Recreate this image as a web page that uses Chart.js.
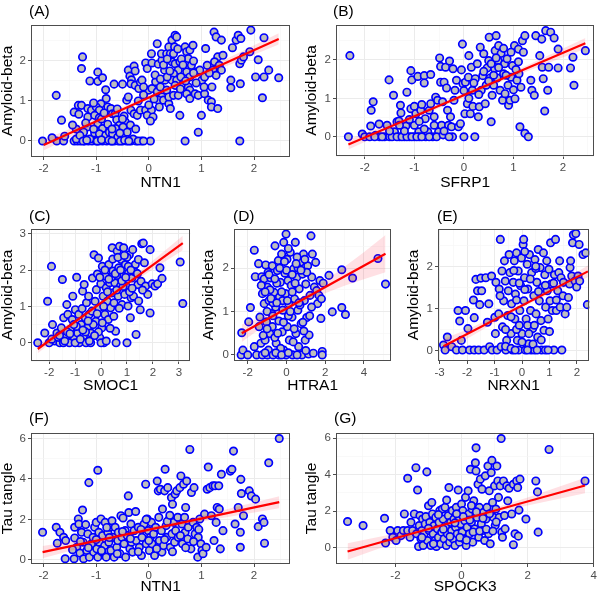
<!DOCTYPE html>
<html>
<head>
<meta charset="utf-8">
<script src="https://cdn.jsdelivr.net/npm/chart.js@4.4.1/dist/chart.umd.min.js"></script>
<style>
html, body { margin: 0; padding: 0; background: #fff; }
#page { position: relative; width: 600px; height: 597px; overflow: hidden; font-family: "Liberation Sans", Arial, sans-serif; }
.box { position: absolute; }
.tag { position: absolute; font-size: 15.5px; line-height: 18px; height: 18px; color: #000; }
</style>
</head>
<body>
<div id="page"></div>
<script>
// Panel labels and axis titles
const tags = ['(A)', '(B)', '(C)', '(D)', '(E)', '(F)', '(G)'];
const xTitles = ['NTN1', 'SFRP1', 'SMOC1', 'HTRA1', 'NRXN1', 'NTN1', 'SPOCK3'];
const yTitles = ['Amyloid-beta', 'Amyloid-beta', 'Amyloid-beta', 'Amyloid-beta', 'Amyloid-beta', 'Tau tangle', 'Tau tangle'];

// Tick labels
const xTicksA = [-2, -1, 0, 1, 2], yTicksA = [0, 1, 2];
const xTicksB = [-2, -1, 0, 1, 2], yTicksB = [0, 1, 2];
const xTicksC = [-2, -1, 0, 1, 2, 3], yTicksC = [0, 1, 2, 3];
const xTicksD = [-2, 0, 2, 4], yTicksD = [0, 1, 2];
const xTicksE = [-3, -2, -1, 0, 1, 2], yTicksE = [0, 1, 2];
const xTicksF = [-2, -1, 0, 1, 2], yTicksF = [0, 2, 4, 6];
const xTicksG = [-2, 0, 2, 4], yTicksG = [0, 2, 4, 6];

// Scatter points [x, y]
const ptsA = [
  [-2.02,0],[-1.75,0],[-1.62,0],[-1.42,0],[-1.36,0],[-1.3,0],[-1.22,0],[-1.15,0],[-1.08,0],[-1.0,0],[-0.95,0],[-0.88,0],
  [-0.8,0],[-0.72,0],[-0.66,0],[-0.58,0],[-0.5,0],[-0.42,0],[-0.34,0],[-0.24,0],[-0.14,0],[0.03,0],[0.69,0],[1.73,0],
  [-1.84,0.08],[-1.6,0.12],[-1.38,0.05],[-1.25,0.1],[-1.12,0.05],[-0.85,0.08],[-0.62,0.06],[-0.45,0.1],[-0.3,0.05],
  [-1.66,0.52],[-1.76,1.14],[-1.42,0.72],[-1.34,0.89],[-1.28,0.89],[-1.33,0.67],[-1.26,2.1],[-1.28,1.81],
  [-1.12,1.5],[-1.16,0.81],[-1.09,0.77],[-1.16,0.6],[-1.17,0.35],[-1.24,0.22],[-1.31,0.14],
  [-0.97,1.72],[-0.97,1.49],[-0.88,1.58],[-0.82,1.28],[-0.81,1.06],[-0.91,0.93],[-1.0,0.85],[-0.94,0.77],[-1.03,0.64],
  [-0.94,0.58],[-0.97,0.43],[-0.88,0.31],[-1.03,0.2],[-0.94,0.18],[-0.82,0.14],[-0.75,0.22],[-0.78,0.85],[-0.72,0.81],[-0.69,0.68],
  [-0.66,1.42],[-0.64,0.68],[-0.61,0.53],[-0.56,0.39],[-0.63,0.31],[-0.69,0.18],[-0.59,0.1],[-0.5,1.42],[-0.47,0.62],
  [-0.45,0.48],[-0.49,0.35],[-0.41,0.22],[-0.42,1.02],[-0.39,1.1],
  [-0.39,1.77],[-0.36,1.62],[-0.33,1.53],[-0.28,1.87],[-0.26,1.75],[-0.34,1.43],[-0.26,1.39],[-0.19,1.31],[-0.16,1.47],
  [-0.13,1.52],[-0.34,0.77],[-0.28,0.68],[-0.22,0.64],[-0.16,0.77],[-0.06,0.77],[0.05,0.77],[-0.03,0.64],[0.08,0.6],[0.03,0.5],
  [-0.06,1.95],[-0.03,1.81],[0.05,2.18],[0.06,1.95],[0,1.27],[0.06,1.31],[0.13,1.48],[0.16,1.23],[0.22,1.35],[0.18,1.92],
  [0.16,2.43],[0.25,2.02],[0.24,2.18],[0.3,1.77],[0.34,2.18],[0.38,2.35],[0.41,2.18],[0.31,1.52],[0.34,1.27],[0.25,1.1],
  [0.18,1.02],[0.28,1.02],[0.38,0.93],[0.41,0.81],[0.38,1.1],
  [0.44,2.52],[0.5,2.64],[0.53,2.6],[0.49,2.35],[0.47,2.18],[0.44,1.98],[0.5,1.93],[0.59,1.98],[0.56,1.77],[0.47,1.68],
  [0.44,1.52],[0.53,1.52],[0.5,1.39],[0.61,1.6],[0.66,1.43],[0.47,1.14],[0.56,1.14],[0.59,0.64],[0.69,2.35],[0.72,2.23],
  [0.78,2.27],[0.84,2.39],[0.75,2.06],[0.81,1.89],[0.72,1.73],[0.78,1.6],[0.75,1.35],[0.78,1.27],[0.72,1.18],[0.78,1.06],
  [0.88,1.18],[0.94,1.14],[0.94,0.22],[1.0,0.64],[0.91,1.73],[0.97,1.77],[1.01,1.52],[1.06,1.6],[1.08,2.31],[1.11,1.89],
  [1.06,1.18],[1.13,1.02],[1.19,0.98],[1.19,0.85],[1.31,0.81],[1.24,2.72],[1.28,2.6],[1.38,2.52],[1.31,2.1],[1.41,2.14],
  [1.25,1.98],[1.34,1.89],[1.38,1.77],[1.22,1.77],[1.28,1.64],[1.59,2.33],[1.66,2.52],[1.7,2.64],[1.75,2.56],[1.56,1.52],
  [1.56,1.33],[1.74,1.43],[1.73,1.93],[1.76,2.02],[1.8,2.1],[1.94,2.77],[1.92,2.23],[2.03,1.6],[2.08,2.03],[2.19,2.58],
  [2.19,1.6],[2.16,1.08],[2.28,1.77],[2.47,1.58],
  [-1.25,0],[-1.18,0.02],[-0.98,0],[-0.9,0.03],[-0.76,0.02],[-0.7,0],[-0.54,0],[-0.46,0.02],[-0.38,0],[-0.2,0],[-0.1,0],
  [-1.38,0.3],[-1.2,0.45],[-1.05,0.3],[-0.9,0.55],[-0.78,0.42],[-0.7,0.3],[-0.55,0.2],[-0.5,0.55],[-0.35,0.4],[-0.25,0.3],
  [-1.45,0.4],[-0.6,0.8],[-0.85,0.7],[-1.05,0.95],
  [-0.2,1.0],[-0.1,1.15],[0.1,1.05],[0.2,0.85],[0.0,0.9],[-0.1,1.35],[0.12,1.65],[0.22,1.55],[0.35,1.6],[0.28,1.9],
  [0.4,1.75],[0.62,2.05],[0.65,1.9],[0.85,2.0],[0.9,1.45],[1.05,1.35],[1.15,1.7],[0.7,1.5],[0.85,1.7],[0.55,2.3],
  [0.35,2.05],[0.6,1.3],[1.2,1.35]
];
const ptsB = [
  [-2.33,0],[-2.3,2.11],[-2.05,0.07],[-2.0,0],[-1.88,0.28],[-1.83,0.91],[-1.87,0.69],[-1.78,0.04],[-1.71,0.33],[-1.7,0],
  [-1.6,0],[-1.55,0.3],[-1.51,1.48],[-1.5,0],[-1.42,1.08],[-1.4,0.13],[-1.35,0.39],[-1.31,0.41],[-1.28,0.82],[-1.27,0.62],
  [-1.3,0],[-1.2,0],[-1.17,0.28],[-1.15,1.16],[-1.1,0],[-1.07,0.73],[-1.07,1.72],[-1.05,1.48],[-1.0,0],[-1.0,0.79],
  [-0.97,0.6],[-0.93,1.57],[-0.91,0.13],[-0.9,0],[-0.87,0.69],[-0.85,0.84],[-0.8,1.59],[-0.8,1.4],[-0.78,0.47],[-0.77,0],
  [-0.73,0.13],[-0.7,0.69],[-0.67,1.62],[-0.67,0.86],[-0.63,0],[-0.6,0.52],[-0.57,1.03],[-0.53,0.95],[-0.51,0.13],[-0.49,2.05],
  [-0.47,1.83],[-0.47,1.42],[-0.43,0.91],[-0.45,0.3],[-0.4,1.42],[-0.37,1.81],[-0.35,1.27],[-0.33,0.69],[-0.31,0.3],[-0.29,1.97],
  [-0.27,0.52],[-0.25,0.26],[-0.23,0],[-0.22,1.77],[-0.2,0.95],[-0.18,1.21],[-0.15,1.47],[-0.11,0.26],[-0.07,0.34],[-0.05,1.74],
  [-0.03,2.41],[-0.02,1.38],[0,0],[0.02,0.6],[0.03,1.42],[0.07,0.86],[0.09,1.55],[0.1,2.11],[0.13,0.6],[0.15,1.81],
  [0.17,1.21],[0.18,0.79],[0.22,0],[0.23,1.51],[0.27,1.9],[0.29,0.52],[0.31,0.78],[0.33,2.33],[0.35,1.21],[0.38,1.59],
  [0.4,2.16],[0.43,0.86],[0.45,1.34],[0.47,1.79],[0.5,1.98],[0.51,2.59],[0.53,1.53],[0.55,0.39],[0.57,1.08],[0.6,1.34],
  [0.62,1.77],[0.63,2.24],[0.65,2.63],[0.67,1.53],[0.69,1.98],[0.7,2.37],[0.73,1.21],[0.75,2.17],[0.78,0.95],[0.8,1.64],
  [0.82,1.9],[0.83,1.12],[0.87,2.03],[0.89,1.34],[0.9,0.82],[0.93,0.95],[0.95,1.55],[0.98,1.85],[1.0,1.22],[1.02,2.37],
  [1.03,0.99],[1.07,1.47],[1.1,2.28],[1.11,1.64],[1.13,0.26],[1.15,1.29],[1.18,2.5],[1.2,2.2],[1.23,2.63],[1.23,0.09],
  [1.3,0],[1.35,1.47],[1.37,1.21],[1.42,1.08],[1.45,2.63],[1.53,2.11],[1.57,2.54],[1.58,1.81],[1.6,1.51],[1.63,0.67],
  [1.65,2.76],[1.69,1.21],[1.71,1.81],[1.75,2.72],[1.82,2.57],[1.9,2.28],[1.9,1.79],[2.15,1.79],[2.2,2.07],[2.22,1.34],[2.45,2.24],
  [-1.9,0],[-1.8,0],[-1.65,0],[-1.45,0],[-1.35,0],[-1.25,0],[-1.15,0],[-1.05,0],[-0.95,0],[-0.85,0],[-0.7,0],[-0.55,0],
  [-0.42,0.05],[-0.3,0],[-1.5,0.15],[-1.2,0.15],[-1.0,0.3],[-0.8,0.2],[-0.6,0.3],[-0.4,0.15],[-1.1,0.45],[-0.9,0.4],[-1.3,0.3],
  [0.0,1.2],[0.1,1.0],[0.2,1.4],[0.3,1.1],[0.4,1.7],[0.55,1.9],[0.6,1.6],[0.7,1.8],[0.8,2.3],[0.85,1.6],[0.95,2.2],
  [1.05,1.75],[1.1,1.95],[0.65,2.05],[0.5,1.45]
];
const ptsC = [
  [-2.44,0],[-2.17,0.27],[-2.06,1.14],[-1.91,2.1],[-1.87,0.5],[-1.78,0.05],[-1.7,0.27],[-1.59,0],[-1.53,0.41],[-1.49,1.74],
  [-1.44,0.69],[-1.37,0.14],[-1.32,1.05],[-1.28,0.78],[-1.22,0],[-1.19,0.37],[-1.11,0.64],[-1.09,1.28],[-1.03,0.14],[-0.99,0.91],
  [-0.94,1.8],[-0.9,0.27],[-0.86,0.78],[-0.84,0],[-0.77,0.5],[-0.73,0.94],[-0.71,1.42],[-0.68,0.18],[-0.65,1.6],[-0.61,0.69],
  [-0.58,0],[-0.56,1.1],[-0.52,0.41],[-0.48,1.28],[-0.46,0.78],[-0.39,0.27],[-0.35,0.87],[-0.33,1.78],[-0.27,2.42],[-0.23,1.14],
  [-0.2,0.59],[-0.18,1.46],[-0.14,1.89],[-0.1,2.33],[-0.08,0.96],[-0.05,0.14],[-0.01,1.62],[0.03,0.41],[0.05,2.1],[0.08,1.28],
  [0.11,0],[0.15,0.78],[0.18,1.83],[0.2,1.51],[0.24,1.14],[0.28,0.64],[0.3,2.15],[0.33,1.65],[0.37,0.96],[0.41,1.37],
  [0.43,2.61],[0.46,1.97],[0.49,0.73],[0.53,1.65],[0.56,0.32],[0.58,0],[0.62,2.52],[0.66,1.28],[0.68,2.06],[0.71,2.65],
  [0.75,1.56],[0.78,2.29],[0.81,1.05],[0.84,1.83],[0.87,2.61],[0.91,1.33],[0.94,2.15],[0.96,1.56],[1.0,0],[1.04,1.01],
  [1.06,1.92],[1.09,2.42],[1.13,0.69],[1.16,1.24],[1.19,1.78],[1.22,2.56],[1.25,1.28],[1.32,2.15],[1.35,0.23],[1.42,1.6],
  [1.44,2.29],[1.51,0.91],[1.54,1.69],[1.57,2.72],[1.63,2.74],[1.67,2.2],[1.72,1.56],[1.8,1.33],[1.89,2.56],[1.89,0.82],
  [1.97,1.62],[2.08,1.56],[2.18,1.62],[2.27,2.06],[2.35,1.77],[3.05,2.22],[3.15,1.08],
  [-2.0,0],[-1.9,0.1],[-1.65,0.15],[-1.45,0],[-1.3,0.3],[-1.0,0],[-0.95,0.45],[-0.6,0.3],[-0.4,0],[-0.3,0.5],
  [-0.1,0.3],[0.0,0],[0.2,0.05],[0.35,0.4],[0.5,1.1],[0.6,1.85],[0.7,0.95],[0.85,1.55],[1.0,2.35],[1.1,1.4],[1.3,1.95],[1.45,1.15],
  [-1.6,0.2],[-1.4,0.05],[-1.2,0.25],[-1.05,0.5],[-0.8,0.1],[-0.7,0.35],[-0.5,0.6],[-0.45,0.05],[-0.25,0.2],[-0.15,0.8],
  [0.05,0.55],[0.1,1.0],[0.25,1.4],[0.4,1.8],[0.45,2.3],[0.55,1.9],[0.6,1.45],[0.65,2.35],[0.75,2.0],[0.8,1.7],
  [0.9,2.4],[0.95,1.8],[1.05,2.1],[1.15,2.0],[1.2,1.5],[0.3,1.75],[0.15,2.0],[-0.05,1.8],[1.4,1.9],[1.6,1.45]
];
const ptsD = [
  [-2.31,0.51],[-2.34,0],[-2.25,0.11],[-1.95,0.76],[-2.0,0],[-1.86,1.09],[-1.66,2.41],[-1.61,1.8],[-1.66,0.19],[-1.54,0],
  [-1.44,2.1],[-1.41,0.65],[-1.37,0.87],[-1.32,0.27],[-1.27,1.8],[-1.24,1.41],[-1.24,0],[-1.15,1.75],[-1.15,1.18],[-1.1,0.34],
  [-1.07,2.07],[-1.03,0.76],[-0.98,1.56],[-0.98,0],[-0.93,0.11],[-0.9,1.25],[-0.86,0.49],[-0.81,1.77],[-0.76,0.95],[-0.73,2.05],
  [-0.73,0.65],[-0.69,0],[-0.64,1.44],[-0.59,2.51],[-0.56,1.1],[-0.53,0.27],[-0.47,1.94],[-0.42,2.17],[-0.39,0.78],[-0.39,0],
  [-0.36,1.33],[-0.31,1.67],[-0.25,2.32],[-0.22,0.53],[-0.19,1.03],[-0.14,2.59],[-0.14,0.11],[-0.08,1.88],[-0.05,1.41],[-0.02,2.78],
  [-0.02,0],[0.03,2.2],[0.05,0.65],[0.08,1.71],[0.12,1.18],[0.15,0.34],[0.2,2.36],[0.25,1.6],[0.29,0.87],[0.32,0],
  [0.37,1.98],[0.42,1.29],[0.46,2.59],[0.49,0.49],[0.54,1.79],[0.59,1.03],[0.63,0.19],[0.66,1.52],[0.71,2.13],[0.76,0.72],
  [0.8,0],[0.83,1.86],[0.88,2.32],[0.93,1.25],[0.97,0.34],[1.0,1.63],[1.05,0.86],[1.1,2.05],[1.14,0.02],[1.17,0.46],
  [1.22,1.37],[1.27,2.74],[1.31,1.79],[1.34,2.32],[1.39,0.04],[1.44,1.56],[1.51,2.13],[1.56,1.48],[1.61,1.18],[1.68,1.37],
  [1.73,1.71],[1.78,0.84],[1.81,1.29],[1.85,0.08],[1.9,1.65],[1.85,0],[2.2,1.83],[2.37,0.99],[2.86,1.96],[2.86,1.09],
  [3.05,0.93],[3.42,1.77],[4.73,2.22],[5.12,1.63],
  [-1.2,0.45],[-1.0,1.0],[-0.85,1.5],[-0.6,0.4],[-0.5,1.65],[-0.3,0.15],[-0.2,1.25],[0.0,1.95],[0.1,0.9],[0.3,1.45],
  [0.4,0.6],[0.55,2.25],[0.7,1.15],[0.9,0.55],[1.05,1.9],[1.2,0.9],[-0.7,1.2],[-0.95,1.9],[0.6,2.0],[1.3,1.1],
  [-1.3,1.6],[-1.1,1.45],[-1.0,0.6],[-0.9,1.85],[-0.8,1.3],[-0.7,0.9],[-0.6,1.75],[-0.5,1.2],[-0.45,0.5],[-0.35,2.0],
  [-0.25,1.45],[-0.15,0.75],[-0.1,2.15],[0.05,1.25],[0.1,2.45],[0.2,1.0],[0.3,1.85],[0.35,0.3],[0.45,1.65],[0.5,2.1],
  [0.65,1.2],[0.75,1.95],[0.85,0.75],[0.95,2.2],[-0.55,0.05],[-0.25,0.0],[0.1,0.05],[0.55,0.0],[1.0,0.1],[-1.1,0.05]
];
const ptsE = [
  [-2.86,0.13],[-2.8,0.01],[-2.72,0.32],[-2.56,0.09],[-2.39,0.01],[-2.33,0.95],[-2.27,0.7],[-2.21,0.24],[-2.17,0.01],[-2.06,0.95],
  [-1.97,0.52],[-1.91,0.01],[-1.77,1.2],[-1.74,0.78],[-1.74,0.01],[-1.68,1.69],[-1.62,1.42],[-1.58,0.01],[-1.54,1.09],[-1.5,1.72],
  [-1.47,1.42],[-1.38,0.01],[-1.32,1.73],[-1.26,0.67],[-1.21,1.11],[-1.18,0.09],[-1.11,1.77],[-1.09,0.01],[-0.99,0.79],[-0.97,0.4],
  [-0.95,1.62],[-0.91,0.01],[-0.85,0.87],[-0.83,1.46],[-0.79,2.64],[-0.76,0.09],[-0.73,1.89],[-0.71,0.56],[-0.67,1.18],[-0.64,2.13],
  [-0.61,1.65],[-0.59,0.01],[-0.56,0.24],[-0.52,0.83],[-0.5,1.42],[-0.47,2.28],[-0.44,1.85],[-0.4,0.4],[-0.38,1.11],[-0.35,0.01],
  [-0.32,1.62],[-0.28,2.13],[-0.26,0.75],[-0.24,1.34],[-0.2,2.32],[-0.17,0.24],[-0.14,1.89],[-0.12,0.01],[-0.08,0.95],[-0.05,1.54],
  [-0.02,2.2],[0,0.4],[0.04,2.52],[0.06,2.64],[0.07,1.18],[0.09,1.73],[0.12,0.01],[0.15,0.75],[0.19,2.05],[0.21,1.46],
  [0.24,0.16],[0.27,2.28],[0.31,0.95],[0.33,0.01],[0.35,1.85],[0.39,0.52],[0.43,1.3],[0.45,0.01],[0.47,2.16],[0.51,0.87],
  [0.54,1.62],[0.57,0.32],[0.59,2.4],[0.63,1.18],[0.66,1.97],[0.69,0.71],[0.71,0.01],[0.74,1.5],[0.78,2.32],[0.8,0.48],
  [0.83,1.8],[0.86,1.03],[0.9,2.13],[0.92,1.42],[0.95,0.75],[0.98,1.93],[1.02,1.18],[1.04,2.56],[1.06,1.58],[1.1,0.95],
  [1.16,0.01],[1.18,1.8],[1.22,2.64],[1.25,0.95],[1.3,1.42],[1.34,1.85],[1.37,2.13],[1.39,1.03],[1.42,1.73],[1.45,0.01],
  [1.49,1.3],[1.51,1.62],[1.57,0.87],[1.63,1.03],[1.69,1.26],[1.73,1.58],[1.75,1.97],[1.77,2.13],[1.81,1.77],[1.84,2.56],
  [1.87,2.75],[1.93,1.65],[1.96,2.78],[1.99,1.51],[2.04,1.77],[2.08,2.52],[2.1,1.65],[2.22,2.28],[2.32,2.32],[2.38,1.09],
  [-0.6,0.1],[-0.4,0.05],[-0.2,0.5],[0.0,0.2],[0.2,0.6],[0.4,0.15],[-0.3,1.9],[0.1,2.35],[0.5,1.95],[-0.1,1.6],
  [-0.8,1.3],[-0.6,0.5],[-0.4,0.8],[-0.2,1.2],[-0.1,0.6],[0.1,1.45],[0.25,0.4],[0.3,1.7],[0.45,0.6],[0.5,2.0],
  [0.6,1.4],[0.7,0.25],[0.85,1.55],[1.0,0.45],[1.15,1.6],[1.25,1.2],[0.2,0.01],[0.55,0.01],[0.85,0.01],[-0.25,0.01],[0.95,0.01]
];
const ptsF = [
  [-2.02,1.36],[-1.76,1.61],[-1.74,0.82],[-1.69,1.36],[-1.62,1.11],[-1.59,0.05],[-1.58,0.95],[-1.42,0.05],[-1.41,1.61],[-1.41,1.08],
  [-1.37,0.62],[-1.34,2.02],[-1.33,1.77],[-1.31,0.33],[-1.28,1.36],[-1.26,2.46],[-1.25,0.87],[-1.24,0.05],[-1.2,1.74],[-1.18,0.46],
  [-1.16,1.28],[-1.14,3.82],[-1.13,0.13],[-1.09,0.79],[-1.06,1.11],[-1.05,0.38],[-1.03,1.61],[-1.0,1.85],[-0.99,0.54],[-0.97,4.43],
  [-0.97,0.13],[-0.95,1.36],[-0.94,0.87],[-0.91,2.02],[-0.89,0.38],[-0.88,1.2],[-0.84,0.7],[-0.83,1.85],[-0.81,0.13],[-0.78,1.36],
  [-0.76,0.87],[-0.74,1.61],[-0.72,0.46],[-0.7,1.93],[-0.68,1.11],[-0.66,0.13],[-0.64,1.61],[-0.61,0.62],[-0.59,0.95],[-0.58,1.36],
  [-0.55,0.3],[-0.53,2.18],[-0.51,1.11],[-0.49,2.07],[-0.47,0.79],[-0.45,1.44],[-0.44,0.13],[-0.41,1.2],[-0.39,3.16],[-0.38,2.34],
  [-0.36,0.54],[-0.34,1.77],[-0.33,0.87],[-0.31,0.38],[-0.28,1.44],[-0.25,2.39],[-0.24,0.95],[-0.2,1.61],[-0.18,0.62],[-0.14,0.21],
  [-0.13,1.11],[-0.09,1.77],[-0.06,3.74],[-0.05,0.79],[-0.03,2.02],[-0.01,1.44],[0.01,0.46],[0.03,1.11],[0.05,1.85],[0.06,0.79],
  [0.09,1.28],[0.11,0.21],[0.13,1.61],[0.16,3.9],[0.18,3.41],[0.19,2.1],[0.2,0.95],[0.22,3.49],[0.24,1.44],[0.25,0.38],
  [0.26,2.51],[0.28,0.7],[0.3,3.41],[0.31,4.48],[0.33,1.69],[0.34,1.11],[0.36,3.57],[0.39,2.02],[0.41,0.62],[0.43,3.08],
  [0.44,1.28],[0.45,2.75],[0.47,1.85],[0.49,0.87],[0.5,3.25],[0.51,1.44],[0.53,3.41],[0.55,2.1],[0.56,1.11],[0.59,3.57],
  [0.61,4.15],[0.63,1.77],[0.64,0.79],[0.66,3.74],[0.68,2.1],[0.69,1.36],[0.7,2.59],[0.72,3.9],[0.74,1.03],[0.75,1.61],
  [0.78,5.46],[0.8,0.54],[0.81,3.33],[0.84,1.85],[0.86,3.57],[0.88,1.28],[0.91,1.61],[0.93,0.13],[0.94,1.11],[0.97,2.02],
  [0.99,0.79],[1.01,0.46],[1.03,0.3],[1.06,2.26],[1.09,0.62],[1.11,3.49],[1.13,4.59],[1.16,3.57],[1.19,2.18],[1.22,3.66],
  [1.24,0.95],[1.26,3.66],[1.28,1.85],[1.3,2.59],[1.33,3.66],[1.34,2.51],[1.36,0.54],[1.38,4.23],[1.41,1.44],[1.55,4.39],
  [1.58,4.48],[1.61,5.38],[1.64,1.77],[1.7,2.59],[1.74,1.36],[1.74,0.62],[1.75,3.98],[1.76,3.28],[1.8,2.18],[1.91,3.41],
  [1.95,3.16],[2.03,3.0],[2.08,1.64],[2.16,2.02],[2.19,1.85],[2.2,0.82],[2.28,4.8],[2.48,6.0],
  [-1.45,0.5],[-1.3,0.9],[-1.15,0.6],[-1.0,1.0],[-0.9,0.45],[-0.75,1.1],[-0.6,0.3],[-0.5,1.4],[-0.35,1.05],[-0.2,0.4],
  [-0.15,1.5],[0.0,0.95],[0.15,0.55],[0.3,1.0],[0.35,1.9],[0.45,0.4],[0.6,1.2],[0.7,0.6],[0.85,0.9],[0.95,1.5],
  [-0.05,2.0],[0.4,2.2],[-0.8,1.6]
];
const ptsG = [
  [-3.45,1.42],[-2.98,1.2],[-2.33,1.6],[-2.3,0.24],[-2.16,0.93],[-2.08,0.56],[-1.98,0.38],[-1.93,0.93],[-1.83,0.65],[-1.76,0.93],
  [-1.73,1.84],[-1.63,3.8],[-1.63,0.93],[-1.56,0.56],[-1.53,1.38],[-1.48,0.93],[-1.43,1.84],[-1.38,4.38],[-1.36,0.75],[-1.33,3.15],
  [-1.3,0.05],[-1.28,1.2],[-1.26,1.75],[-1.23,0.47],[-1.2,0.93],[-1.18,1.56],[-1.16,0.11],[-1.13,0.75],[-1.1,1.29],[-1.08,1.69],
  [-1.05,4.15],[-1.03,0.38],[-1.0,2.29],[-0.98,0.93],[-0.96,1.38],[-0.93,0.11],[-0.9,2.47],[-0.88,1.84],[-0.86,0.75],[-0.83,1.2],
  [-0.8,0.38],[-0.78,1.65],[-0.76,0.05],[-0.73,1.02],[-0.7,0.56],[-0.68,1.38],[-0.66,2.02],[-0.63,0.2],[-0.6,0.84],[-0.58,2.11],
  [-0.56,1.56],[-0.53,0.47],[-0.5,2.2],[-0.48,1.11],[-0.46,0.11],[-0.43,0.75],[-0.4,1.75],[-0.38,3.29],[-0.36,0.29],[-0.33,1.38],
  [-0.3,0.93],[-0.28,2.02],[-0.26,0.47],[-0.23,1.56],[-0.2,0.11],[-0.18,1.11],[-0.16,2.2],[-0.13,0.75],[-0.1,3.15],[-0.08,1.65],
  [-0.06,0.29],[-0.03,1.29],[0.0,2.38],[0.02,0.84],[0.04,2.02],[0.07,0.47],[0.1,1.47],[0.12,2.75],[0.14,0.11],[0.17,1.11],
  [0.2,3.11],[0.22,1.84],[0.24,0.75],[0.27,4.29],[0.3,1.38],[0.32,2.11],[0.34,0.29],[0.37,2.56],[0.4,1.02],[0.42,4.65],
  [0.44,4.2],[0.44,5.47],[0.47,1.65],[0.5,3.47],[0.52,0.56],[0.54,2.2],[0.57,3.75],[0.6,1.29],[0.62,3.2],[0.64,0.93],
  [0.67,1.93],[0.7,0.38],[0.72,3.93],[0.74,1.56],[0.77,2.2],[0.8,4.47],[0.82,0.75],[0.84,3.11],[0.87,0.2],[0.9,4.11],
  [0.92,4.78],[0.94,2.47],[0.97,1.65],[1.0,3.38],[1.02,1.2],[1.04,2.11],[1.07,4.47],[1.1,3.65],[1.12,2.75],[1.14,1.65],
  [1.17,3.38],[1.2,5.98],[1.22,0.84],[1.24,0.56],[1.27,3.65],[1.3,1.75],[1.32,1.02],[1.37,3.38],[1.4,2.56],[1.44,3.25],
  [1.52,1.84],[1.57,3.47],[1.57,0.15],[1.62,0.75],[1.67,3.65],[1.7,3.29],[1.72,0.62],[1.74,2.05],[1.77,3.75],[1.95,1.56],
  [2.25,3.65],[2.3,3.05],[2.32,0.84],[2.65,5.38],[3.74,3.65],
  [-1.2,0.55],[-1.0,1.05],[-0.85,0.2],[-0.7,1.8],[-0.55,1.0],[-0.35,0.6],[-0.2,1.35],[-0.05,0.55],[0.05,1.7],[0.15,0.4],
  [0.25,1.5],[0.35,0.85],[0.45,1.95],[0.55,0.9],[0.65,1.6],[0.75,1.0],[0.85,1.85],[0.95,0.9],[1.05,1.4],[0.3,2.3],
  [-0.15,1.85],[-0.45,2.6]
];

// Fitted lines [x, y] and confidence bands
const lineA = [[-2.0, -0.1], [2.47, 2.55]];
const lineB = [[-2.33, -0.2], [2.45, 2.43]];
const lineC = [[-2.44, -0.17], [3.15, 2.74]];
const lineD = [[-2.31, 0.5], [5.12, 2.33]];
const lineE = [[-2.86, 0.1], [2.4, 1.88]];
const lineF = [[-2.02, 0.38], [2.48, 2.85]];
const lineG = [[-3.45, -0.22], [3.74, 3.4]];

const bandXA = [-2, -1, 0, 1, 2.47], bandLoA = [-0.24, 0.41, 1.04, 1.61, 2.41], bandHiA = [0.04, 0.57, 1.14, 1.75, 2.69];
const bandXB = [-2.33, -1, 0, 1, 2.45], bandLoB = [-0.33, 0.46, 1.03, 1.57, 2.29], bandHiB = [-0.07, 0.6, 1.13, 1.69, 2.57];
const bandXC = [-2.44, -1, 0, 1, 2, 3.15], bandLoC = [-0.29, 0.51, 1.05, 1.55, 2.02, 2.54], bandHiC = [-0.05, 0.65, 1.15, 1.69, 2.26, 2.94];
const bandXD = [-2.31, -1, 0, 1, 2, 3, 4, 5.12], bandLoD = [0.3, 0.72, 1.02, 1.24, 1.42, 1.59, 1.74, 1.9], bandHiD = [0.7, 0.92, 1.12, 1.4, 1.7, 2.03, 2.36, 2.76];
const bandXE = [-2.86, -2, -1, 0, 1, 2.4], bandLoE = [-0.07, 0.28, 0.66, 1.02, 1.34, 1.74], bandHiE = [0.27, 0.5, 0.8, 1.12, 1.48, 2.02];
const bandXF = [-2.02, -1, 0, 1, 2.48], bandLoF = [0.08, 0.78, 1.38, 1.89, 2.55], bandHiF = [0.68, 1.1, 1.6, 2.19, 3.15];
const bandXG = [-3.45, -2, -1, 0, 1, 2, 3.74], bandLoG = [-0.67, 0.26, 0.87, 1.42, 1.88, 2.3, 2.98], bandHiG = [0.23, 0.76, 1.15, 1.62, 2.16, 2.74, 3.82];

// Panel geometry and axis ranges
const panels = [
  { left: 0,   top: 16,  w: 296, h: 179, axW: 31, axH: 38, padT: 8, padR: 3, tagX: 29,  tagY: 11,  xr: [-2.24, 2.69], yr: [-0.4, 2.9],
    pts: ptsA, line: lineA, bx: bandXA, lo: bandLoA, hi: bandHiA, xt: xTicksA, yt: yTicksA },
  { left: 304, top: 16,  w: 296, h: 179, axW: 32, axH: 39, padT: 8, padR: 3, tagX: 333, tagY: 11,  xr: [-2.58, 2.63], yr: [-0.5, 2.91],
    pts: ptsB, line: lineB, bx: bandXB, lo: bandLoB, hi: bandHiB, xt: xTicksB, yt: yTicksB },
  { left: 0,   top: 220, w: 196, h: 178, axW: 31, axH: 37, padT: 8, padR: 3, tagX: 29,  tagY: 216, xr: [-2.70, 3.44], yr: [-0.5, 3.13],
    pts: ptsC, line: lineC, bx: bandXC, lo: bandLoC, hi: bandHiC, xt: xTicksC, yt: yTicksC },
  { left: 201, top: 220, w: 196, h: 178, axW: 33, axH: 37, padT: 8, padR: 3, tagX: 233, tagY: 216, xr: [-2.71, 5.42], yr: [-0.14, 2.90],
    pts: ptsD, line: lineD, bx: bandXD, lo: bandLoD, hi: bandHiD, xt: xTicksD, yt: yTicksD },
  { left: 406, top: 220, w: 189, h: 178, axW: 32, axH: 37, padT: 8, padR: 3, tagX: 437, tagY: 216, xr: [-3.06, 2.45], yr: [-0.25, 2.89],
    pts: ptsE, line: lineE, bx: bandXE, lo: bandLoE, hi: bandHiE, xt: xTicksE, yt: yTicksE },
  { left: 0,   top: 424, w: 296, h: 173, axW: 31, axH: 33, padT: 8, padR: 3, tagX: 29,  tagY: 418, xr: [-2.24, 2.69], yr: [-0.21, 6.28],
    pts: ptsF, line: lineF, bx: bandXF, lo: bandLoF, hi: bandHiF, xt: xTicksF, yt: yTicksF },
  { left: 304, top: 424, w: 296, h: 173, axW: 32, axH: 33, padT: 8, padR: 3, tagX: 334, tagY: 418, xr: [-3.8, 4.02], yr: [-0.91, 6.29],
    pts: ptsG, line: lineG, bx: bandXG, lo: bandLoG, hi: bandHiG, xt: xTicksG, yt: yTicksG }
];

Chart.defaults.font.family = '"Liberation Sans", Arial, sans-serif';
Chart.defaults.animation = false;

// panel border on all four sides
const frame = {
  id: 'frame',
  afterDraw(chart) {
    const a = chart.chartArea, g = chart.ctx;
    g.save();
    g.strokeStyle = '#4d4d4d';
    g.lineWidth = 1;
    g.strokeRect(Math.round(a.left) + 0.5, Math.round(a.top) + 0.5, Math.round(a.width) - 1, Math.round(a.height) - 1);
    g.restore();
  }
};

function axis(range, major, title, size, isX, last) {
  const step = major[1] - major[0];
  const list = major.map(v => ({ value: v }));
  for (let v = major[0] - step / 2; v <= range[1]; v += step) {
    if (v >= range[0]) list.push({ value: v, minor: true });
  }
  list.sort((a, b) => a.value - b.value);
  const isMinor = c => c.tick && c.tick.minor;
  return {
    type: 'linear',
    min: range[0],
    max: range[1],
    afterBuildTicks: s => { s.ticks = list.map(t => Object.assign({}, t)); },
    afterFit: s => { if (isX) s.height = size; else s.width = size; },
    border: { display: false },
    grid: {
      color: c => isMinor(c) ? '#F5F5F5' : '#EBEBEB',
      lineWidth: c => isMinor(c) ? 0.6 : 1,
      tickColor: c => isMinor(c) ? 'rgba(0,0,0,0)' : '#4d4d4d',
      tickLength: 3
    },
    ticks: {
      autoSkip: false,
      maxRotation: 0,
      padding: 2,
      color: '#4D4D4D',
      font: { size: 11.5 },
      callback: (v, i, t) => t[i].minor ? '' : String(v)
    },
    title: {
      display: true,
      text: title,
      color: '#000',
      font: { size: 15.5, lineHeight: 1 },
      padding: isX ? { top: 0, bottom: last ? 3 : 4.5 } : { top: 0, bottom: 0 }
    }
  };
}

const page = document.getElementById('page');
const xy = arr => arr.map(p => ({ x: p[0], y: p[1] }));

panels.forEach((p, k) => {
  const box = document.createElement('div');
  box.className = 'box';
  box.style.left = p.left + 'px';
  box.style.top = p.top + 'px';
  const cv = document.createElement('canvas');
  cv.width = p.w;
  cv.height = p.h;
  box.appendChild(cv);
  page.appendChild(box);

  const tag = document.createElement('div');
  tag.className = 'tag';
  tag.textContent = tags[k];
  tag.style.left = p.tagX + 'px';
  tag.style.top = (p.tagY - 9) + 'px';
  page.appendChild(tag);

  new Chart(cv.getContext('2d'), {
    type: 'scatter',
    data: {
      datasets: [
        { type: 'line', data: xy(p.line), borderColor: '#FF0000', borderWidth: 2.2, pointRadius: 0, order: 0 },
        { type: 'line', data: p.bx.map((x, i) => ({ x: x, y: p.hi[i] })), borderWidth: 0, pointRadius: 0,
          fill: '+1', backgroundColor: 'rgba(255,0,30,0.12)', order: 1 },
        { type: 'line', data: p.bx.map((x, i) => ({ x: x, y: p.lo[i] })), borderWidth: 0, pointRadius: 0,
          fill: false, order: 1 },
        { data: xy(p.pts), pointRadius: 3.7, pointBorderWidth: 1.7, pointBackgroundColor: '#BEBEBE',
          pointBorderColor: '#0000FF', order: 3 }
      ]
    },
    options: {
      responsive: false,
      devicePixelRatio: 1,
      layout: { padding: { left: 0, top: p.padT, right: p.padR, bottom: 0 } },
      plugins: { legend: { display: false }, tooltip: { enabled: false } },
      scales: {
        x: axis(p.xr, p.xt, xTitles[k], p.axH, true, k >= 5),
        y: axis(p.yr, p.yt, yTitles[k], p.axW, false, false)
      }
    },
    plugins: [frame]
  });
});
</script>
</body>
</html>
